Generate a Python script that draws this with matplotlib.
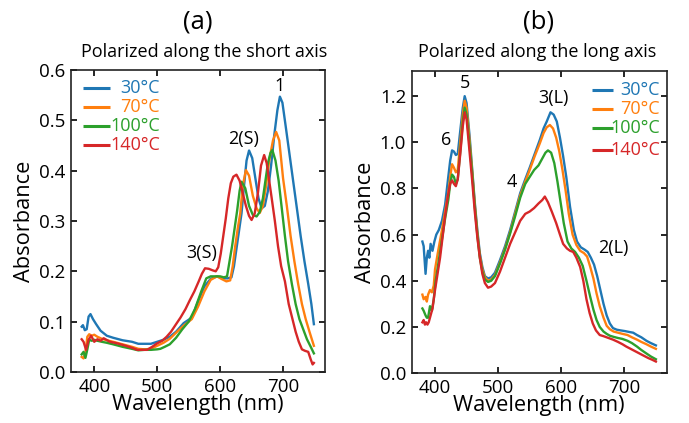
import numpy as np
import matplotlib
matplotlib.use("Agg")
import matplotlib.pyplot as plt

plt.rcParams['font.family'] = ['Open Sans', 'DejaVu Sans']

colours = ['#1f77b4', '#ff7f0e', '#2ca02c', '#d62728']
temps = ['30°C', '70°C', '100°C', '140°C']

# ---- (a) polarized along the short axis ----
a_wl_30 = [380, 382, 385, 388, 391, 394, 398, 403, 410, 420, 430, 445, 460, 470, 480, 490, 500, 510, 520, 530,
           542, 555, 565, 575, 585, 595, 605, 612, 618, 622, 626, 630, 634, 638, 642, 646, 651, 656, 661, 666,
           671, 676, 681, 686, 691, 695, 699, 704, 710, 716, 722, 728, 734, 740, 745, 749]
a_ab_30 = [0.090, 0.093, 0.083, 0.085, 0.110, 0.115, 0.105, 0.095, 0.082, 0.072, 0.068, 0.063, 0.060, 0.056, 0.056, 0.056, 0.060, 0.064, 0.070, 0.080,
           0.097, 0.108, 0.140, 0.170, 0.185, 0.190, 0.186, 0.186, 0.188, 0.210, 0.245, 0.280, 0.315, 0.370, 0.420, 0.440, 0.425, 0.385, 0.345, 0.325,
           0.330, 0.360, 0.410, 0.470, 0.520, 0.547, 0.535, 0.490, 0.435, 0.380, 0.325, 0.270, 0.220, 0.175, 0.135, 0.095]

a_wl_70 = [380, 383, 386, 389, 392, 396, 400, 405, 412, 420, 430, 445, 460, 470, 480, 490, 500, 510, 520, 530,
           542, 555, 565, 575, 585, 595, 602, 610, 616, 620, 624, 628, 632, 636, 641, 646, 652, 658, 663, 668,
           673, 678, 684, 689, 694, 700, 706, 712, 718, 724, 730, 736, 742, 749]
a_ab_70 = [0.030, 0.027, 0.040, 0.070, 0.075, 0.072, 0.074, 0.070, 0.066, 0.063, 0.060, 0.055, 0.050, 0.046, 0.045, 0.046, 0.052, 0.058, 0.066, 0.078,
           0.092, 0.105, 0.130, 0.160, 0.183, 0.190, 0.185, 0.180, 0.182, 0.210, 0.250, 0.285, 0.315, 0.370, 0.401, 0.390, 0.350, 0.325, 0.316, 0.330,
           0.370, 0.420, 0.460, 0.477, 0.460, 0.385, 0.330, 0.270, 0.220, 0.175, 0.135, 0.105, 0.080, 0.052]

a_wl_100 = [380, 383, 386, 389, 392, 396, 400, 405, 412, 420, 430, 445, 460, 470, 480, 490, 500, 505, 512, 520,
            530, 540, 550, 560, 570, 578, 585, 592, 600, 606, 611, 615, 619, 623, 627, 631, 634, 640, 646, 652,
            658, 663, 668, 672, 676, 680, 683, 688, 693, 698, 703, 708, 714, 720, 726, 732, 738, 744, 749]
a_ab_100 = [0.035, 0.040, 0.028, 0.045, 0.064, 0.062, 0.064, 0.062, 0.060, 0.058, 0.055, 0.050, 0.046, 0.043, 0.044, 0.044, 0.045, 0.046, 0.050, 0.055,
            0.068, 0.085, 0.100, 0.125, 0.160, 0.186, 0.190, 0.190, 0.190, 0.188, 0.190, 0.220, 0.250, 0.285, 0.320, 0.360, 0.378, 0.365, 0.330, 0.312,
            0.309, 0.318, 0.345, 0.380, 0.415, 0.435, 0.441, 0.420, 0.380, 0.325, 0.270, 0.220, 0.175, 0.135, 0.105, 0.085, 0.065, 0.050, 0.037]

a_wl_140 = [380, 383, 387, 391, 395, 400, 405, 410, 415, 425, 436, 450, 460, 468, 476, 484, 492, 500, 508, 515,
            522, 530, 537, 545, 552, 559, 566, 571, 576, 582, 588, 593, 597, 601, 605, 609, 613, 617, 621, 626,
            631, 636, 641, 646, 650, 655, 660, 665, 670, 674, 678, 682, 687, 692, 697, 703, 709, 715, 720, 725,
            730, 735, 740, 744, 747, 749]
a_ab_140 = [0.065, 0.060, 0.044, 0.064, 0.072, 0.060, 0.065, 0.062, 0.067, 0.060, 0.057, 0.052, 0.048, 0.044, 0.044, 0.044, 0.050, 0.057, 0.062, 0.070,
            0.080, 0.095, 0.108, 0.125, 0.143, 0.160, 0.180, 0.195, 0.206, 0.205, 0.202, 0.200, 0.208, 0.235, 0.270, 0.305, 0.345, 0.375, 0.388, 0.392,
            0.380, 0.355, 0.330, 0.310, 0.302, 0.315, 0.355, 0.410, 0.431, 0.415, 0.380, 0.345, 0.300, 0.250, 0.210, 0.180, 0.135, 0.105, 0.080, 0.060,
            0.045, 0.042, 0.040, 0.025, 0.015, 0.018]

# ---- (b) polarized along the long axis ----
b_wl_30 = [380, 382, 385, 387, 389, 391, 393, 396, 399, 402, 406, 411, 416, 421, 424, 427, 430, 433, 436, 440,
           444, 447, 450, 455, 459, 463, 467, 471, 475, 479, 484, 489, 495, 503, 511, 519, 527, 535, 543, 550,
           558, 566, 572, 577, 583, 588, 593, 598, 603, 608, 614, 620, 625, 631, 637, 642, 647, 652, 657, 662,
           667, 672, 677, 682, 688, 694, 701, 708, 714, 720, 727, 735, 742, 750]
b_ab_30 = [0.57, 0.55, 0.43, 0.50, 0.53, 0.50, 0.56, 0.53, 0.57, 0.60, 0.62, 0.66, 0.73, 0.85, 0.92, 0.965, 0.96, 0.945, 0.95, 1.05,
           1.15, 1.20, 1.17, 1.02, 0.88, 0.74, 0.62, 0.52, 0.46, 0.42, 0.41, 0.415, 0.435, 0.49, 0.55, 0.62, 0.70, 0.78, 0.84, 0.89,
           0.95, 1.01, 1.06, 1.09, 1.13, 1.12, 1.09, 1.02, 0.94, 0.85, 0.72, 0.62, 0.57, 0.545, 0.535, 0.525, 0.50, 0.47, 0.42, 0.36,
           0.30, 0.25, 0.215, 0.195, 0.188, 0.185, 0.182, 0.178, 0.175, 0.165, 0.155, 0.14, 0.13, 0.12]

b_wl_70 = [380, 382, 385, 387, 389, 392, 395, 398, 400, 405, 411, 416, 421, 424, 427, 430, 433, 436, 440, 444,
           447, 450, 455, 459, 463, 467, 471, 475, 479, 484, 489, 495, 503, 511, 519, 527, 535, 543, 550, 558,
           566, 572, 577, 582, 587, 592, 597, 602, 607, 612, 618, 624, 630, 636, 641, 646, 651, 656, 661, 667,
           672, 677, 683, 690, 697, 705, 712, 720, 727, 735, 742, 750]
b_ab_70 = [0.34, 0.32, 0.33, 0.31, 0.34, 0.36, 0.35, 0.38, 0.45, 0.53, 0.62, 0.70, 0.78, 0.85, 0.905, 0.89, 0.87, 0.88, 1.00, 1.12,
           1.18, 1.15, 1.00, 0.87, 0.73, 0.61, 0.51, 0.45, 0.415, 0.40, 0.405, 0.425, 0.48, 0.54, 0.61, 0.69, 0.77, 0.83, 0.88, 0.94,
           0.995, 1.04, 1.065, 1.075, 1.06, 1.02, 0.96, 0.88, 0.79, 0.69, 0.60, 0.555, 0.53, 0.52, 0.505, 0.46, 0.41, 0.345, 0.29, 0.24,
           0.205, 0.19, 0.18, 0.175, 0.17, 0.165, 0.155, 0.145, 0.135, 0.125, 0.115, 0.105]

b_wl_100 = [380, 382, 385, 387, 389, 392, 395, 398, 401, 405, 411, 416, 421, 424, 427, 430, 433, 436, 440, 444,
            447, 450, 455, 459, 463, 467, 471, 475, 479, 484, 489, 495, 503, 511, 519, 527, 535, 543, 550, 557,
            564, 570, 575, 579, 584, 589, 594, 599, 604, 610, 616, 622, 628, 634, 640, 646, 651, 656, 661, 667,
            672, 677, 683, 690, 697, 705, 712, 720, 727, 735, 742, 750]
b_ab_100 = [0.28, 0.27, 0.25, 0.24, 0.24, 0.29, 0.27, 0.32, 0.40, 0.47, 0.58, 0.67, 0.75, 0.82, 0.86, 0.85, 0.82, 0.84, 0.96, 1.09,
            1.15, 1.12, 0.98, 0.86, 0.72, 0.60, 0.50, 0.44, 0.405, 0.395, 0.40, 0.42, 0.475, 0.535, 0.605, 0.68, 0.76, 0.82, 0.85, 0.88,
            0.90, 0.93, 0.955, 0.965, 0.955, 0.91, 0.83, 0.74, 0.65, 0.57, 0.54, 0.525, 0.50, 0.465, 0.40, 0.33, 0.275, 0.23, 0.20, 0.18,
            0.17, 0.162, 0.157, 0.152, 0.148, 0.14, 0.13, 0.115, 0.10, 0.085, 0.072, 0.06]

b_wl_140 = [380, 382, 384, 386, 388, 390, 393, 396, 400, 404, 408, 412, 416, 420, 424, 427, 430, 433, 436, 440,
            444, 447, 450, 455, 459, 463, 467, 471, 475, 479, 484, 489, 495, 503, 511, 519, 527, 535, 543, 550,
            557, 564, 570, 574, 579, 585, 592, 598, 603, 609, 614, 619, 624, 630, 635, 640, 645, 650, 655, 661,
            667, 672, 677, 682, 690, 697, 703, 710, 717, 724, 731, 738, 744, 750]
b_ab_140 = [0.22, 0.23, 0.21, 0.22, 0.21, 0.22, 0.25, 0.28, 0.36, 0.43, 0.50, 0.59, 0.68, 0.76, 0.82, 0.835, 0.82, 0.81, 0.84, 0.95,
            1.07, 1.13, 1.10, 0.95, 0.83, 0.70, 0.59, 0.50, 0.43, 0.39, 0.37, 0.375, 0.39, 0.44, 0.50, 0.56, 0.61, 0.66, 0.69, 0.70,
            0.715, 0.735, 0.75, 0.765, 0.74, 0.70, 0.65, 0.60, 0.56, 0.54, 0.53, 0.525, 0.50, 0.46, 0.40, 0.32, 0.26, 0.215, 0.185, 0.165,
            0.16, 0.155, 0.15, 0.145, 0.135, 0.125, 0.115, 0.105, 0.095, 0.085, 0.075, 0.065, 0.058, 0.05]

a_series = [(a_wl_30, a_ab_30), (a_wl_70, a_ab_70), (a_wl_100, a_ab_100), (a_wl_140, a_ab_140)]
b_series = [(b_wl_30, b_ab_30), (b_wl_70, b_ab_70), (b_wl_100, b_ab_100), (b_wl_140, b_ab_140)]

a_peaks = [('1', 694, 0.568), ('2(S)', 638, 0.462), ('3(S)', 570, 0.236)]
b_peaks = [('5', 448, 1.255), ('6', 418, 1.01), ('3(L)', 587, 1.19), ('4', 521, 0.829), ('2(L)', 683, 0.54)]


def style_axes(ax, ylim, yticks):
    ax.set_xlim(363, 767)
    ax.set_ylim(*ylim)
    ax.set_xticks([400, 500, 600, 700])
    ax.set_yticks(yticks)
    ax.set_yticklabels([f"{t:.1f}" for t in yticks])
    ax.tick_params(direction='in', top=True, right=True, length=4, width=1.2, labelsize=13.5, pad=4)
    for s in ax.spines.values():
        s.set_linewidth(1.2)
        s.set_color('#222222')
    ax.set_xlabel("Wavelength (nm)", fontsize=15.7, labelpad=-1)
    ax.set_ylabel("Absorbance", fontsize=15.7, labelpad=3)


def draw_legend(ax, x0, x1, xt, ys):
    for c, t, y in zip(colours, temps, ys):
        ax.plot([x0, x1], [y, y], color=c, lw=2.2, transform=ax.transAxes, solid_capstyle='butt')
        ax.text(xt, y, t, color=c, fontsize=13, ha='right', va='center', transform=ax.transAxes)


fig = plt.figure(figsize=(6.89, 4.23), dpi=100)
ax1 = fig.add_axes([0.103, 0.1206, 0.369, 0.714])
ax2 = fig.add_axes([0.5975, 0.118, 0.370, 0.7147])

for (wl, ab), c in zip(a_series, colours):
    ax1.plot(wl, ab, color=c, lw=1.7)
for (wl, ab), c in zip(b_series, colours):
    ax2.plot(wl, ab, color=c, lw=1.7)

style_axes(ax1, (0, 0.6), [0.0, 0.1, 0.2, 0.3, 0.4, 0.5, 0.6])
style_axes(ax2, (0, 1.31), [0.0, 0.2, 0.4, 0.6, 0.8, 1.0, 1.2])

for t, x, y in a_peaks:
    ax1.text(x, y, t, fontsize=13, ha='center', va='center')
for t, x, y in b_peaks:
    ax2.text(x, y, t, fontsize=13, ha='center', va='center')

draw_legend(ax1, 0.047, 0.153, 0.35, [0.94, 0.877, 0.813, 0.75])
draw_legend(ax2, 0.706, 0.791, 0.974, [0.936, 0.872, 0.81, 0.738])

fig.text(0.287, 0.949, "(a)", fontsize=18.5, ha='center', va='center')
fig.text(0.296, 0.878, "Polarized along the short axis", fontsize=13, ha='center', va='center')
fig.text(0.782, 0.949, "(b)", fontsize=18.5, ha='center', va='center')
fig.text(0.78, 0.878, "Polarized along the long axis", fontsize=13, ha='center', va='center')

fig.savefig("out.png", dpi=100)
